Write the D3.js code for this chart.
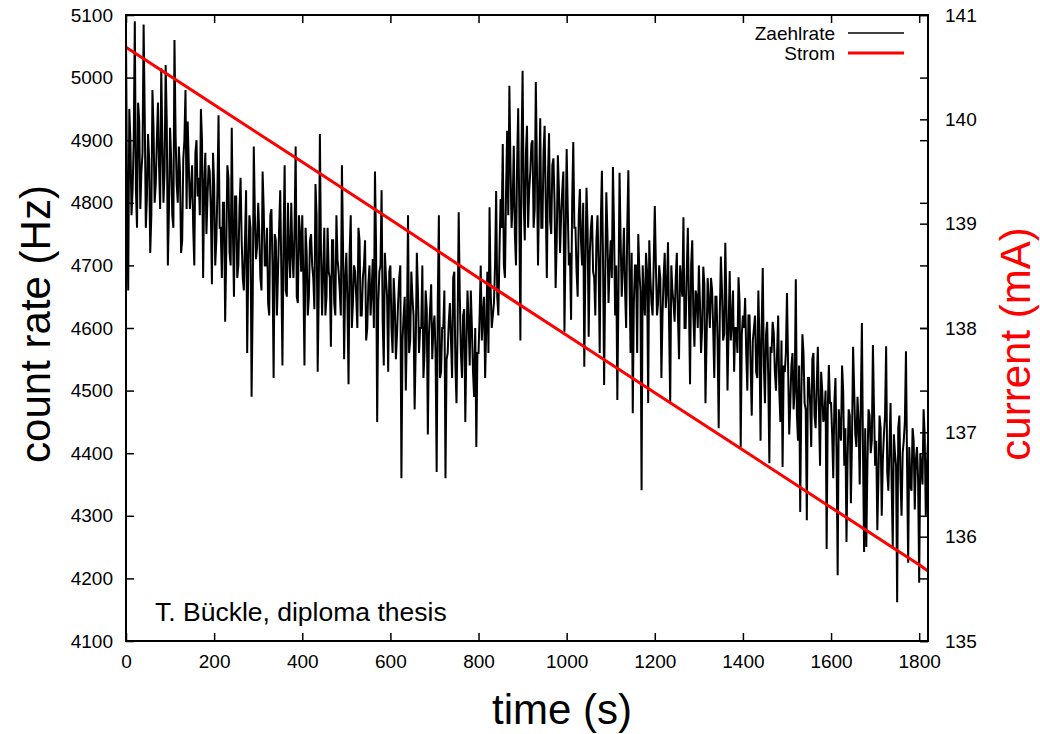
<!DOCTYPE html>
<html>
<head>
<meta charset="utf-8">
<script src="https://cdn.jsdelivr.net/npm/d3@7"></script>
<style>
  body { margin: 0; background: #fff; }
  text { font-family: "Liberation Sans", Arial, sans-serif; }
</style>
</head>
<body>
<svg id="chart" width="1040" height="734"></svg>
<script>

// count rate (Hz), readings at t = 0, 5, 10, ... s
var sampleStep = 5
var countRate = [
	5070, 4660, 4900, 4820, 5090, 4760, 4930, 4850, 5085, 4760, 4910, 4720, 4980, 4800, 4900, 4860, 5015, 4800, 5020, 4700,
	4920, 4780, 5060, 4830, 4890, 4720, 4870, 4980, 4930, 4790, 4860, 4700, 4900, 4840, 4950, 4680, 4880, 4810, 4850, 4670,
	4830, 4740, 4940, 4760, 4800, 4610, 4860, 4720, 4920, 4650, 4810, 4700, 4840, 4680, 4740, 4560, 4780, 4490, 4890, 4710,
	4800, 4680, 4850, 4700, 4760, 4620, 4790, 4520, 4740, 4690, 4820, 4540, 4860, 4650, 4720, 4800, 4680, 4890, 4640, 4750,
	4780, 4540, 4720, 4650, 4750, 4680, 4830, 4530, 4910, 4620, 4760, 4650, 4690, 4570, 4740, 4620, 4710, 4660, 4860, 4550,
	4720, 4510, 4780, 4640, 4690, 4600, 4740, 4620, 4700, 4580, 4670, 4620, 4710, 4850, 4450, 4690, 4820, 4540, 4680, 4530,
	4700, 4560, 4640, 4590, 4680, 4360, 4620, 4500, 4780, 4580, 4650, 4470, 4720, 4560, 4600, 4520, 4660, 4430, 4630, 4550,
	4620, 4370, 4780, 4530, 4600, 4360, 4560, 4640, 4520, 4690, 4480, 4785, 4560, 4620, 4450, 4660, 4540, 4600, 4490, 4410,
	4560, 4700, 4620, 4520, 4690, 4793, 4600, 4640, 4819, 4620, 4806, 4894, 4680, 4915, 4987, 4760, 4891, 4700, 4951, 4580,
	5011, 4740, 4923, 4820, 4894, 4760, 4993, 4700, 4935, 4760, 4923, 4680, 4911, 4750, 4871, 4664, 4876, 4720, 4820, 4594,
	4886, 4700, 4613, 4897, 4760, 4650, 4822, 4700, 4538, 4824, 4586, 4760, 4690, 4620, 4780, 4560, 4851, 4509, 4817, 4640,
	4740, 4857, 4620, 4485, 4848, 4650, 4760, 4600, 4852, 4560, 4464, 4700, 4560, 4690, 4341, 4650, 4720, 4480, 4680, 4620,
	4795, 4620, 4700, 4520, 4680, 4632, 4737, 4480, 4660, 4610, 4720, 4550, 4670, 4777, 4600, 4760, 4510, 4740, 4570, 4650,
	4700, 4560, 4698, 4480, 4680, 4600, 4661, 4520, 4650, 4440, 4714, 4580, 4736, 4500, 4691, 4610, 4530, 4600, 4681, 4410,
	4620, 4648, 4500, 4620, 4460, 4600, 4530, 4660, 4420, 4696, 4480, 4610, 4384, 4560, 4592, 4500, 4620, 4450, 4378, 4530,
	4656, 4430, 4540, 4470, 4678, 4420, 4306, 4590, 4480, 4293, 4520, 4410, 4560, 4440, 4570, 4380, 4500, 4460, 4247, 4541,
	4480, 4360, 4520, 4205, 4440, 4540, 4380, 4258, 4470, 4320, 4570, 4430, 4490, 4350, 4608, 4242, 4250, 4470, 4400, 4573,
	4380, 4277, 4460, 4300, 4430, 4571, 4340, 4480, 4250, 4400, 4162, 4460, 4300, 4420, 4563, 4225, 4350, 4440, 4310, 4410,
	4193, 4380, 4470, 4300, 4420
]

// count rate (Hz), readings in between, at t = 2.5, 7.5, 12.5, ... s
var countRateMid = [
	4800, 4950, 4780, 4900, 4820, 4960, 4790, 4880, 4940, 4810, 4870, 4780, 4920, 4830, 4960, 4790, 4900, 4850, 4930, 4790,
	4870, 4760, 4910, 4800, 4850, 4740, 4900, 4790, 4860, 4820, 4760, 4880, 4810, 4780, 4900, 4830, 4750, 4860, 4790, 4880,
	4700, 4820, 4760, 4680, 4800, 4720, 4840, 4700, 4760, 4810, 4680, 4790, 4740, 4660, 4820, 4700, 4760, 4640, 4780, 4730,
	4750, 4660, 4790, 4700, 4640, 4780, 4700, 4750, 4620, 4760, 4690, 4740, 4660, 4800, 4680, 4720, 4760, 4650, 4780, 4690,
	4680, 4760, 4620, 4740, 4700, 4630, 4780, 4660, 4720, 4690, 4620, 4760, 4680, 4740, 4640, 4780, 4690, 4620, 4730, 4680,
	4640, 4720, 4600, 4700, 4650, 4760, 4620, 4680, 4740, 4600, 4700, 4660, 4600, 4730, 4640, 4700, 4610, 4720, 4650, 4690,
	4600, 4680, 4550, 4640, 4700, 4580, 4650, 4600, 4560, 4690, 4620, 4570, 4660, 4600, 4700, 4560, 4630, 4590, 4670, 4600,
	4560, 4640, 4520, 4600, 4660, 4550, 4610, 4580, 4680, 4540, 4600, 4650, 4520, 4630, 4570, 4610, 4660, 4530, 4600, 4560,
	4620, 4580, 4650, 4600, 4560, 4660, 4620, 4700, 4650, 4720, 4760, 4700, 4820, 4780, 4860, 4800, 4750, 4860, 4790, 4880,
	4800, 4880, 4760, 4850, 4900, 4790, 4860, 4820, 4760, 4880, 4800, 4840, 4770, 4860, 4800, 4740, 4820, 4780, 4850, 4740,
	4790, 4720, 4800, 4760, 4690, 4780, 4740, 4800, 4700, 4760, 4720, 4780, 4680, 4740, 4700, 4770, 4710, 4680, 4750, 4700,
	4680, 4760, 4700, 4650, 4740, 4700, 4660, 4760, 4690, 4720, 4640, 4700, 4750, 4660, 4700, 4620, 4690, 4740, 4640, 4700,
	4700, 4640, 4680, 4620, 4720, 4660, 4600, 4700, 4640, 4680, 4620, 4700, 4650, 4600, 4690, 4640, 4700, 4620, 4660, 4600,
	4640, 4600, 4670, 4580, 4640, 4680, 4600, 4650, 4580, 4620, 4660, 4590, 4640, 4600, 4580, 4660, 4600, 4560, 4640, 4590,
	4600, 4560, 4620, 4540, 4580, 4620, 4520, 4580, 4600, 4540, 4590, 4520, 4570, 4610, 4530, 4560, 4500, 4580, 4540, 4560,
	4540, 4480, 4560, 4500, 4460, 4540, 4490, 4560, 4470, 4520, 4480, 4550, 4460, 4510, 4470, 4530, 4450, 4500, 4470, 4480,
	4430, 4480, 4400, 4470, 4420, 4500, 4440, 4390, 4460, 4420, 4500, 4410, 4450, 4480, 4400, 4440, 4380, 4460, 4420, 4470,
	4420, 4360, 4440, 4390, 4460, 4370, 4410, 4350, 4430, 4380, 4440, 4360, 4400, 4450, 4380, 4410, 4340, 4420, 4390, 4360,
	4400, 4350, 4430, 4380
]

// beam current (mA)
var currentTime = [0, 200, 400, 600, 800, 1000, 1200, 1400, 1600, 1800, 1820]
var currentValue = [140.69, 140.14, 139.59, 139.04, 138.48, 137.93, 137.38, 136.83, 136.28, 135.73, 135.67]

var xTicks = [0, 200, 400, 600, 800, 1000, 1200, 1400, 1600, 1800]
var yTicks = [4100, 4200, 4300, 4400, 4500, 4600, 4700, 4800, 4900, 5000, 5100]
var y2Ticks = [135, 136, 137, 138, 139, 140, 141]

var legendNames = ["Zaehlrate", "Strom"]

function drawChart() {

	var svg = d3.select("#chart")

	var plotLeft = 126, plotRight = 928, plotTop = 15, plotBottom = 641

	var x = d3.scaleLinear().domain([0, 1820]).range([plotLeft, plotRight])
	var y = d3.scaleLinear().domain([4100, 5100]).range([plotBottom, plotTop])
	var y2 = d3.scaleLinear().domain([135, 141]).range([plotBottom, plotTop])

	// axes, all ticks pointing inwards
	svg.append("g")
		.attr("transform", "translate(" + plotLeft + ",0)")
		.call(d3.axisLeft(y).tickValues(yTicks).tickSize(-8).tickPadding(13).tickFormat(d3.format("d")))
	svg.append("g")
		.attr("transform", "translate(" + plotRight + ",0)")
		.call(d3.axisRight(y).tickValues(yTicks).tickSize(-8).tickFormat(""))
	svg.append("g")
		.attr("transform", "translate(" + plotRight + ",0)")
		.call(d3.axisRight(y2).tickValues(y2Ticks).tickSize(-8).tickPadding(17).tickFormat(d3.format("d")))
	svg.append("g")
		.attr("transform", "translate(0," + plotBottom + ")")
		.call(d3.axisBottom(x).tickValues(xTicks).tickSize(-8).tickPadding(14).tickFormat(d3.format("d")))
	svg.append("g")
		.attr("transform", "translate(0," + plotTop + ")")
		.call(d3.axisTop(x).tickValues(xTicks).tickSize(-8).tickFormat(""))

	svg.selectAll(".domain").remove()
	svg.selectAll(".tick line").attr("stroke", "black").attr("stroke-width", 1.5)
	svg.selectAll(".tick text").attr("font-size", 19).attr("fill", "black")

	// interleave the two sets of readings into one time series
	var series = []
	countRate.forEach(function (v, i) {
		series.push({ t: i * sampleStep, v: v })
		if (i < countRateMid.length) {
			series.push({ t: i * sampleStep + sampleStep / 2, v: countRateMid[i] })
		}
	})

	var ratePath = d3.line()
		.x(function (d) { return x(d.t) })
		.y(function (d) { return y(d.v) })

	svg.append("path")
		.datum(series)
		.attr("d", ratePath)
		.attr("fill", "none")
		.attr("stroke", "black")
		.attr("stroke-width", 2)

	// current on the second axis
	var currentPath = d3.line()
		.x(function (d, i) { return x(currentTime[i]) })
		.y(function (d) { return y2(d) })

	svg.append("path")
		.datum(currentValue)
		.attr("d", currentPath)
		.attr("fill", "none")
		.attr("stroke", "#ff0000")
		.attr("stroke-width", 3)

	// frame
	svg.append("rect")
		.attr("x", plotLeft)
		.attr("y", plotTop)
		.attr("width", plotRight - plotLeft)
		.attr("height", plotBottom - plotTop)
		.attr("fill", "none")
		.attr("stroke", "black")
		.attr("stroke-width", 2)

	// legend
	var legendColors = ["black", "#ff0000"]
	var legendWidths = [1.5, 3]
	var legend = svg.selectAll(".legend")
		.data(legendNames)
		.enter()
		.append("g")
		.attr("transform", function (d, i) { return "translate(0," + (33 + i * 20) + ")" })
	legend.append("text")
		.attr("x", 835)
		.attr("dy", "0.35em")
		.attr("text-anchor", "end")
		.attr("font-size", 19)
		.text(function (d) { return d })
	legend.append("line")
		.attr("x1", 848)
		.attr("x2", 904)
		.attr("stroke", function (d, i) { return legendColors[i] })
		.attr("stroke-width", function (d, i) { return legendWidths[i] })

	// labels
	svg.append("text")
		.attr("x", 155)
		.attr("y", 621)
		.attr("font-size", 26.5)
		.text("T. Bückle, diploma thesis")

	svg.append("text")
		.attr("x", 562)
		.attr("y", 724)
		.attr("text-anchor", "middle")
		.attr("font-size", 42)
		.text("time (s)")

	svg.append("text")
		.attr("transform", "translate(50,324) rotate(-90)")
		.attr("text-anchor", "middle")
		.attr("font-size", 42)
		.text("count rate (Hz)")

	svg.append("text")
		.attr("transform", "translate(1030,344) rotate(-90)")
		.attr("text-anchor", "middle")
		.attr("font-size", 42)
		.attr("fill", "#ff0000")
		.text("current (mA)")
}

drawChart()

</script>
</body>
</html>
